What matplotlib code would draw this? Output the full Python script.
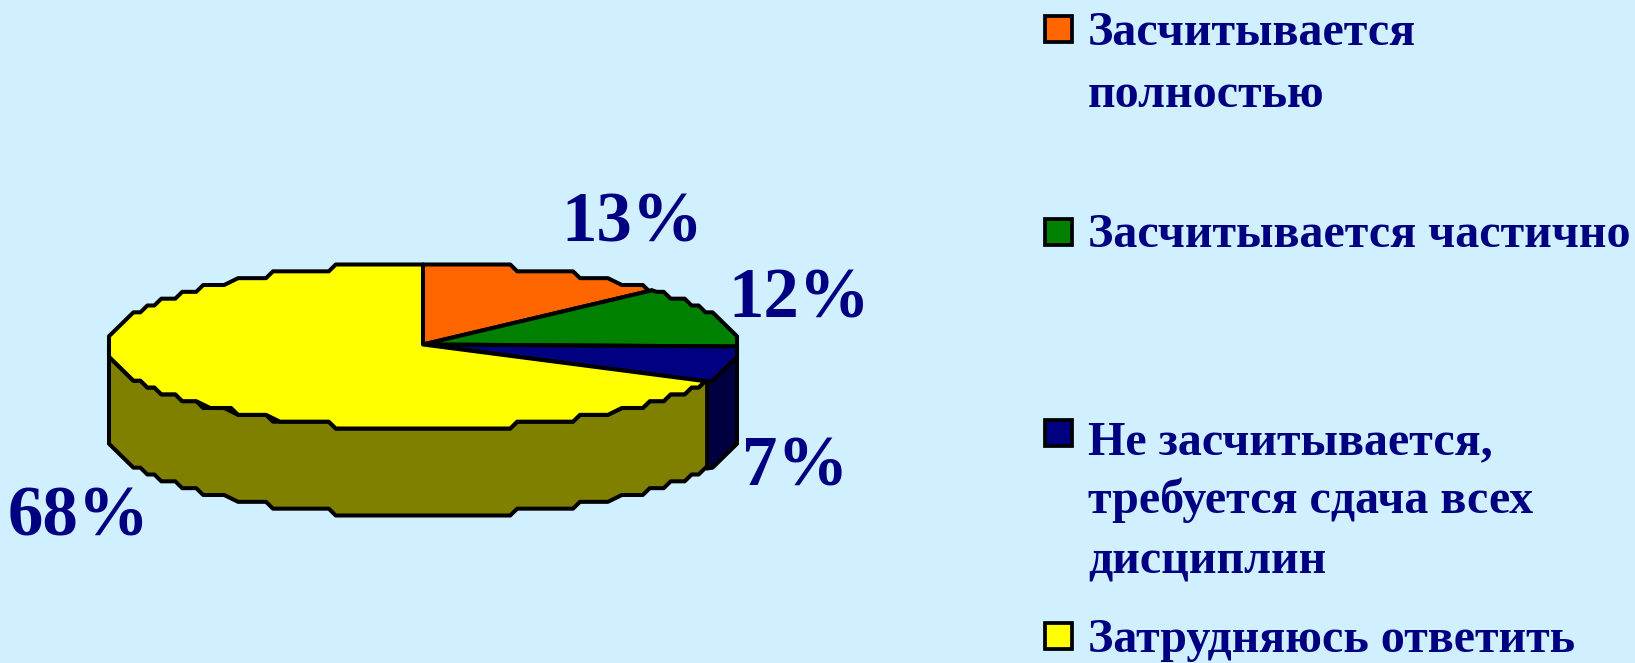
import matplotlib
matplotlib.use("Agg")
import matplotlib.pyplot as plt
from matplotlib.patches import Polygon, Rectangle
import numpy as np

# данные
shares = [13, 12, 7, 68]
pct_labels = ["13%", "12%", "7%", "68%"]
pct_x = [561, 728, 742, 8]
pct_base = [241, 317, 486, 536]
top_colors = ["#FF6600", "#008000", "#000080", "#FFFF00"]
side_colors = ["#803300", "#004000", "#000040", "#808000"]
legend_colors = top_colors
legend_box_y = [29, 232, 433, 636]
legend_lines = ["Засчитывается", "полностью", "Засчитывается частично",
                "Не засчитывается,", "требуется сдача всех", "дисциплин",
                "Затрудняюсь ответить"]
legend_base = [45, 107, 247, 454, 513, 573, 652]

W, H = 1635, 663
BG = "#D0F0FF"
NAVY = "#000080"
cx, cy, rx, ry, depth = 423, 346.5, 314, 82, 87
tip_y = 344.5
grid_x = rx / 45
grid_y = ry / 12
SERIF = "Liberation Serif"


def arc(a0, a1, dy=0.0):
    # край диска как в растровом оригинале: ступеньки со срезанными углами
    t = np.linspace(a0, a1, 400)
    x = rx * np.sin(t)
    y = -ry * np.cos(t)
    px = np.round(x / grid_x) * grid_x
    py = np.round(y / grid_y) * grid_y
    pts = [(px[0], py[0])]
    for p in zip(px[1:], py[1:]):
        if p != pts[-1]:
            pts.append(p)
    pts = np.array(pts)
    if len(pts) > 1:
        mid = (pts[:-1] + pts[1:]) / 2
    else:
        mid = pts
    out = np.vstack([[[x[0], y[0]]], mid, [[x[-1], y[-1]]]])
    out[:, 0] += cx
    out[:, 1] += cy + dy
    return out


fig = plt.figure(figsize=(W / 100, H / 100), dpi=100, facecolor=BG)
ax = fig.add_axes([0, 0, 1, 1])
ax.set_xlim(0, W)
ax.set_ylim(H, 0)
ax.axis("off")

edges = np.radians(np.cumsum([0] + shares) * 3.6)
lw = 2.9

# боковая стенка
for i in range(len(shares)):
    a0, a1 = edges[i], edges[i + 1]
    lo, hi = max(a0, np.pi / 2), min(a1, 3 * np.pi / 2)
    if lo < hi:
        top = arc(lo, hi)
        bot = arc(lo, hi, depth)
        ax.add_patch(Polygon(np.vstack([top, bot[::-1]]), closed=True, fc=side_colors[i],
                             ec="black", lw=lw, joinstyle="round"))

# верх диска
for i in range(len(shares)):
    pts = np.vstack([[[cx, tip_y]], arc(edges[i], edges[i + 1])])
    ax.add_patch(Polygon(pts, closed=True, fc=top_colors[i], ec="black", lw=lw, joinstyle="round"))

for s, x, y in zip(pct_labels, pct_x, pct_base):
    ax.text(x, y, s, family=SERIF, weight="bold", color=NAVY, fontsize=51, va="baseline", ha="left")

for y, c in zip(legend_box_y, legend_colors):
    ax.add_patch(Rectangle((1045, y - 13), 27, 26, fc=c, ec="black", lw=2.7))

for s, y in zip(legend_lines, legend_base):
    ax.text(1088, y, s, family=SERIF, weight="bold", color=NAVY, fontsize=34.6, va="baseline", ha="left")

fig.savefig("out.png", dpi=100, facecolor=BG)
